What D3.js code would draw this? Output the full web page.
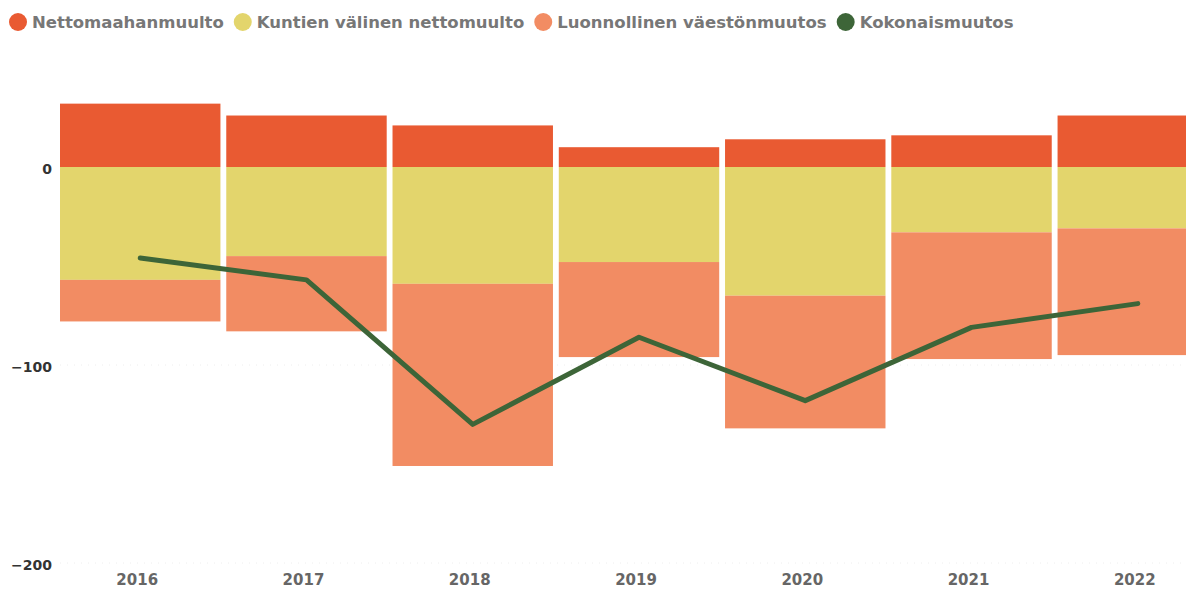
<!DOCTYPE html>
<html lang="fi">
<meta charset="utf-8">
<head>
  <style>
    body { margin: 0; background: #fff; }
    text { font-family: "DejaVu Sans", sans-serif; font-weight: bold; }
  </style>
  <title></title>
</head>
<body>
<script src="https://cdn.jsdelivr.net/npm/d3@7"></script>
<script>
  const years = ["2016", "2017", "2018", "2019", "2020", "2021", "2022"];
  const nettomaahanmuutto = [32, 26, 21, 10, 14, 16, 26];
  const kuntienValinen = [-57, -45, -59, -48, -65, -33, -31];
  const luonnollinen = [-21, -38, -92, -48, -67, -64, -64];
  const kokonaismuutos = [-46, -57, -130, -86, -118, -81, -69];
  const yTicks = [0, -100, -200];

  const seriesNames = ["Nettomaahanmuulto", "Kuntien välinen nettomuulto", "Luonnollinen väestönmuutos", "Kokonaismuutos"];
  const colors = ["#e95a32", "#e3d56c", "#f28c63", "#3d6538"];

  const width = 1186, height = 591;

  const svg = d3.select("body").append("svg")
      .attr("width", width)
      .attr("height", height);

  const x = d3.scaleBand().domain(years).range([60, 1218]).paddingInner(0.035).paddingOuter(0);
  const y = d3.scaleLinear().domain([-200, 0]).range([563, 167]);

  // faint grid
  svg.append("g").selectAll("line")
      .data([-100, -200])
      .enter().append("line")
      .attr("x1", 60).attr("x2", width)
      .attr("y1", d => y(d)).attr("y2", d => y(d))
      .attr("stroke", "#eee")
      .attr("stroke-dasharray", "1,6");

  // stacked bars: positive up from 0, negatives stacked down
  const rows = years.map((yr, i) => {
    const pos = nettomaahanmuutto[i];
    const k = kuntienValinen[i];
    const l = luonnollinen[i];
    return [
      {yr, y0: 0, y1: pos, c: colors[0]},
      {yr, y0: 0, y1: k, c: colors[1]},
      {yr, y0: k, y1: k + l, c: colors[2]}
    ];
  });

  svg.append("g").selectAll("rect")
      .data(rows.flat())
      .enter().append("rect")
      .attr("x", d => x(d.yr))
      .attr("width", x.bandwidth())
      .attr("y", d => y(Math.max(d.y0, d.y1)))
      .attr("height", d => Math.abs(y(d.y0) - y(d.y1)))
      .attr("fill", d => d.c);

  // total line
  const line = d3.line()
      .x((d, i) => x(years[i]) + x.bandwidth() / 2)
      .y(d => y(d));

  svg.append("path")
      .datum(kokonaismuutos)
      .attr("d", line)
      .attr("fill", "none")
      .attr("stroke", colors[3])
      .attr("stroke-width", 5)
      .attr("stroke-linejoin", "round")
      .attr("stroke-linecap", "round");

  // y axis
  const yAxis = d3.axisLeft(y).tickValues(yTicks).tickSize(0).tickPadding(0);
  const gy = svg.append("g")
      .attr("transform", "translate(52,2)")
      .call(yAxis);
  gy.select(".domain").remove();
  gy.selectAll("text")
      .attr("fill", "#333")
      .style("font-size", "14px");

  // x axis
  const xAxis = d3.axisBottom(x).tickSize(0).tickPadding(0);
  const gx = svg.append("g")
      .attr("transform", "translate(-3,574)")
      .call(xAxis);
  gx.select(".domain").remove();
  gx.selectAll("text")
      .attr("fill", "#666")
      .style("font-size", "15px");

  // legend
  const legend = svg.append("g").attr("transform", "translate(0,22)");
  let lx = 9;
  seriesNames.forEach((name, i) => {
    legend.append("circle")
        .attr("cx", lx + 9).attr("cy", 0).attr("r", 9)
        .attr("fill", colors[i]);
    const t = legend.append("text")
        .attr("x", lx + 23).attr("y", 6)
        .attr("fill", "#777")
        .style("font-size", "16.5px")
        .text(name);
    lx += 23 + t.node().getComputedTextLength() + 10;
  });
</script>
</body>
</html>
